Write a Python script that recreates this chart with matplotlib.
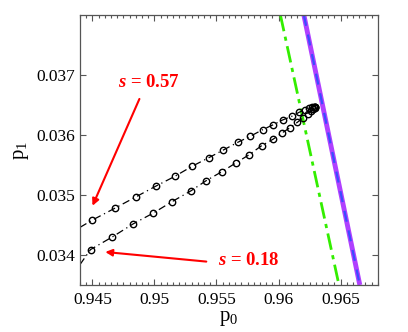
import matplotlib
matplotlib.use("Agg")
import matplotlib.pyplot as plt
from matplotlib.ticker import MultipleLocator, FixedLocator

plt.rcParams['font.family'] = ['Liberation Serif', 'DejaVu Serif']
plt.rcParams['mathtext.fontset'] = 'custom'
plt.rcParams['mathtext.rm'] = 'Liberation Serif'
plt.rcParams['mathtext.it'] = 'Liberation Serif:italic:bold'
plt.rcParams['mathtext.bf'] = 'Liberation Serif:bold'

# s = 0.57 series (markers)
p0_s057 = [0.94498, 0.94682, 0.94852, 0.95014, 0.95164, 0.95305, 0.95437, 0.95556,
           0.95674, 0.95774, 0.95874, 0.95957, 0.96033, 0.96106, 0.96168, 0.96216,
           0.96248, 0.96268, 0.96282, 0.96291, 0.96295]
p1_s057 = [0.03458, 0.03478, 0.03497, 0.03515, 0.03531, 0.03548, 0.03562, 0.03575,
           0.03588, 0.03598, 0.03609, 0.03617, 0.03625, 0.03631, 0.03638, 0.03642,
           0.03645, 0.03646, 0.03647, 0.03647, 0.03647]
# s = 0.18 series (markers)
p0_s018 = [0.94485, 0.94660, 0.94830, 0.94992, 0.95143, 0.95295, 0.95418, 0.95545,
           0.95661, 0.95763, 0.95863, 0.95957, 0.96025, 0.96092, 0.96151, 0.96200,
           0.96236, 0.96260, 0.96281, 0.96290, 0.96295]
p1_s018 = [0.03409, 0.03430, 0.03452, 0.03470, 0.03489, 0.03507, 0.03524, 0.03539,
           0.03554, 0.03567, 0.03582, 0.03593, 0.03603, 0.03612, 0.03621, 0.03629,
           0.03635, 0.03640, 0.03643, 0.03645, 0.03646]
# line continuation to the left edge
p0_start = [0.9440, 0.9440]
p1_start = [0.03446, 0.03384]

# boundary lines
green_p0 = [0.96015, 0.96487]
green_p1 = [0.0380, 0.0335]
purple_p0 = [0.96204, 0.96655]
purple_p1 = [0.0380, 0.0335]

xticks = [0.945, 0.95, 0.955, 0.96, 0.965]
xticklabels = ['0.945', '0.95', '0.955', '0.96', '0.965']
yticks = [0.034, 0.035, 0.036, 0.037]
yticklabels = ['0.034', '0.035', '0.036', '0.037']

fig = plt.figure(figsize=(4.08, 3.32), dpi=100)
ax = fig.add_axes([0.196, 0.1416, 0.730, 0.8134])

ax.plot(green_p0, green_p1, color='#33ee00', lw=2.0, ls='-.', dashes=(6, 2, 1.5, 2))
ax.plot(purple_p0, purple_p1, color='#b040ff', lw=3.5, solid_capstyle='butt')
ax.plot(purple_p0, purple_p1, color='#3a4cff', lw=1.6, ls=(0, (5, 4)))

for (px, py, x0, y0) in [(p0_s057, p1_s057, p0_start[0], p1_start[0]),
                         (p0_s018, p1_s018, p0_start[1], p1_start[1])]:
    ax.plot([x0] + px, [y0] + py, color='black', lw=0.9, ls='-.', dashes=(6, 3, 1, 3))
    ax.plot(px, py, ls='none', marker='o', ms=4.6, mfc='none', mec='black', mew=1.0)

ax.annotate('', xy=(0.94501, 0.03482), xytext=(0.94879, 0.0366),
            arrowprops=dict(arrowstyle='-|>', color='red', lw=1.5, mutation_scale=10,
                            shrinkA=0, shrinkB=0))
ax.annotate('', xy=(0.94604, 0.03405), xytext=(0.95418, 0.03389),
            arrowprops=dict(arrowstyle='-|>', color='red', lw=1.5, mutation_scale=10,
                            shrinkA=0, shrinkB=0))
ax.text(0.94955, 0.03688, r'$s$ = 0.57', color='red', fontsize=13.5, fontweight='bold',
        ha='center', va='center')
ax.text(0.95761, 0.03390, r'$s$ = 0.18', color='red', fontsize=13.5, fontweight='bold',
        ha='center', va='center')

ax.set_xlim(0.944, 0.968)
ax.set_ylim(0.0335, 0.038)
ax.xaxis.set_major_locator(FixedLocator(xticks))
ax.set_xticklabels(xticklabels)
ax.yaxis.set_major_locator(FixedLocator(yticks))
ax.set_yticklabels(yticklabels)
ax.xaxis.set_minor_locator(MultipleLocator(0.0005))
ax.tick_params(which='both', direction='in', top=True, right=True, labelsize=12.5,
               color='#555555', width=0.8)
ax.tick_params(which='major', length=4)
ax.tick_params(which='minor', length=2)
ax.tick_params(axis='y', which='minor', left=False, right=False)
ax.tick_params(axis='x', pad=5)
for sp in ax.spines.values():
    sp.set_color('#555555')
    sp.set_linewidth(0.9)

ax.set_xlabel(r'$\mathrm{p}_{\mathrm{0}}$', fontsize=15, labelpad=1)
ax.set_ylabel(r'$\mathrm{p}_{\mathrm{1}}$', fontsize=15, labelpad=4, rotation=90)

fig.savefig('out.png', dpi=100)
